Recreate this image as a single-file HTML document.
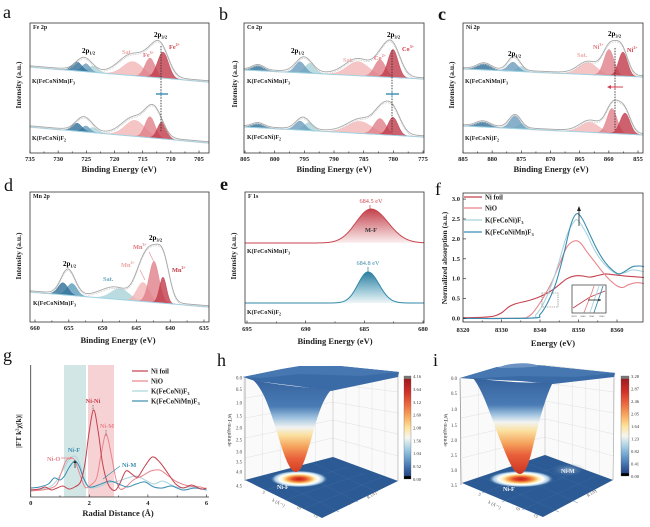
<!DOCTYPE html>
<html><head><meta charset="utf-8">
<style>
html,body{margin:0;padding:0;background:#fff;}
svg{display:block;}
text{font-family:"Liberation Serif",serif;}
.b{font-weight:bold;}
.tk{font-weight:bold;font-size:6.5px;text-anchor:middle;fill:#222;}
.ttl{font-weight:bold;font-size:8.5px;text-anchor:middle;fill:#222;}
.yl{font-weight:bold;font-size:7.5px;text-anchor:middle;fill:#222;}
.pl{font-size:18px;fill:#111;}
.nm{font-weight:bold;font-size:6px;fill:#222;}
.sm{font-weight:bold;font-size:6px;fill:#222;}
.lg{font-weight:bold;font-size:6.8px;fill:#222;}
.cb{font-size:4.6px;fill:#333;}
.ax3{font-size:4.8px;fill:#444;text-anchor:end;}
</style></head><body>
<svg id="s" width="650" height="527" viewBox="0 0 650 527" xmlns="http://www.w3.org/2000/svg">
<defs>
<linearGradient id="gRed" x1="0" y1="0" x2="0" y2="1"><stop offset="0" stop-color="#c23f4a"/><stop offset="0.55" stop-color="#e2a1a6"/><stop offset="1" stop-color="#fbf0f0"/></linearGradient>
<linearGradient id="gBlue" x1="0" y1="0" x2="0" y2="1"><stop offset="0" stop-color="#2d7c9e"/><stop offset="0.55" stop-color="#93c3d4"/><stop offset="1" stop-color="#eef6f8"/></linearGradient>
<linearGradient id="cbar" x1="0" y1="0" x2="0" y2="1">
<stop offset="0" stop-color="#7a7a7a"/><stop offset="0.025" stop-color="#7a7a7a"/><stop offset="0.03" stop-color="#9e1a1f"/><stop offset="0.15" stop-color="#cf2f28"/><stop offset="0.28" stop-color="#ec6a3f"/><stop offset="0.4" stop-color="#f9ad62"/><stop offset="0.5" stop-color="#fde29a"/><stop offset="0.6" stop-color="#f5f5f0"/><stop offset="0.7" stop-color="#a9d1e6"/><stop offset="0.8" stop-color="#6b9fcb"/><stop offset="0.9" stop-color="#3d68a6"/><stop offset="0.97" stop-color="#24457f"/><stop offset="0.975" stop-color="#000"/><stop offset="1" stop-color="#000"/>
</linearGradient>
<linearGradient id="funH" gradientUnits="userSpaceOnUse" x1="0" y1="378" x2="0" y2="473">
<stop offset="0" stop-color="#35629d"/><stop offset="0.3" stop-color="#4a7bb4"/><stop offset="0.42" stop-color="#9fc2df"/><stop offset="0.52" stop-color="#f1f3f2"/><stop offset="0.6" stop-color="#fbe0a0"/><stop offset="0.72" stop-color="#f5a35c"/><stop offset="0.85" stop-color="#e9603a"/><stop offset="1" stop-color="#d23b22"/>
</linearGradient>
<linearGradient id="funI" gradientUnits="userSpaceOnUse" x1="0" y1="378" x2="0" y2="474">
<stop offset="0" stop-color="#35629d"/><stop offset="0.28" stop-color="#4a7bb4"/><stop offset="0.38" stop-color="#9fc2df"/><stop offset="0.46" stop-color="#f1f3f2"/><stop offset="0.55" stop-color="#fbe0a0"/><stop offset="0.68" stop-color="#f5a35c"/><stop offset="0.8" stop-color="#e9603a"/><stop offset="1" stop-color="#cc3322"/>
</linearGradient>
<radialGradient id="hot">
<stop offset="0" stop-color="#c41e18"/><stop offset="0.22" stop-color="#e04a28"/><stop offset="0.4" stop-color="#f6a24e"/><stop offset="0.55" stop-color="#fff0bb"/><stop offset="0.68" stop-color="#ffffff"/><stop offset="0.84" stop-color="#a6c8e2"/><stop offset="1" stop-color="#2b5a94" stop-opacity="0"/>
</radialGradient>
<radialGradient id="hot2">
<stop offset="0" stop-color="#c8d8ea" stop-opacity="0.7"/><stop offset="1" stop-color="#2b5a94" stop-opacity="0"/>
</radialGradient>
</defs>

<!-- panel g bands -->
<rect x="64" y="365" width="22" height="132" fill="#d3e6e6"/>
<rect x="88" y="365" width="26" height="132" fill="#f7d2d4"/>

<g id="data"></g>

<!-- ===== Frames ===== -->
<g fill="none" stroke="#333" stroke-width="0.8">
<rect x="30" y="23" width="179" height="130"/>
<rect x="244" y="23" width="180" height="130"/>
<rect x="463" y="23" width="180" height="130"/>
<rect x="30" y="192" width="179" height="130"/>
<rect x="245" y="192" width="179" height="131"/>
<rect x="463" y="193" width="180" height="129"/>
<path d="M30.7,365 V497 H209"/>
</g>
<g id="ticks" stroke="#333" stroke-width="0.7"></g>

<!-- panel labels -->
<text class="pl" x="3" y="18">a</text>
<text class="pl" x="219" y="20">b</text>
<text class="pl b" x="438" y="20">c</text>
<text class="pl" x="4" y="191">d</text>
<text class="pl b" x="220" y="190">e</text>
<text class="pl" x="435" y="195">f</text>
<text class="pl" x="3" y="361">g</text>
<text class="pl" x="217" y="366">h</text>
<text class="pl" x="433" y="366">i</text>

<!-- ===== Panel a ===== -->
<text class="sm" x="33" y="29">Fe 2p</text>
<text class="b" font-size="7" x="82" y="53">2p<tspan font-size="4.5" dy="1.5">1/2</tspan></text>
<text class="b" font-size="7" x="154" y="37">2p<tspan font-size="4.5" dy="1.5">3/2</tspan></text>
<text class="b" font-size="6.3" x="122" y="54" fill="#efaaaa">Sat.</text>
<text class="b" font-size="6.3" x="143" y="57" fill="#e2737c">Fe<tspan font-size="4" dy="-3">3+</tspan></text>
<text class="b" font-size="6.3" x="169" y="49" fill="#cf3d4c">Fe<tspan font-size="4" dy="-3">2+</tspan></text>
<text class="nm" x="32" y="83">K(FeCoNiMn)F<tspan font-size="4" dy="1.5">3</tspan></text>
<text class="nm" x="32" y="140">K(FeCoNi)F<tspan font-size="4" dy="1.5">2</tspan></text>
<line x1="161" y1="46" x2="161" y2="132" stroke="#333" stroke-width="0.9" stroke-dasharray="1.5,1.2"/>
<g stroke="#3a8ab0" stroke-width="1.4"><line x1="156" y1="94" x2="168" y2="94"/><line x1="161" y1="91.5" x2="161" y2="96.5" stroke-width="0.8"/></g>
<text class="yl" transform="translate(21,85) rotate(-90)">Intensity (a.u.)</text>
<text class="tk" x="30" y="161">735</text><text class="tk" x="58.2" y="161">730</text><text class="tk" x="86.3" y="161">725</text><text class="tk" x="114.5" y="161">720</text><text class="tk" x="142.7" y="161">715</text><text class="tk" x="170.8" y="161">710</text><text class="tk" x="199" y="161">705</text>
<text class="ttl" x="119" y="172">Binding Energy (eV)</text>

<!-- ===== Panel b ===== -->
<text class="sm" x="247" y="29">Co 2p</text>
<text class="b" font-size="7" x="291" y="53">2p<tspan font-size="4.5" dy="1.5">1/2</tspan></text>
<text class="b" font-size="7" x="387" y="37">2p<tspan font-size="4.5" dy="1.5">3/2</tspan></text>
<text class="b" font-size="6.3" x="343" y="62" fill="#efaaaa">Sat.</text>
<text class="b" font-size="6.3" x="374" y="60" fill="#e2737c">Co<tspan font-size="4" dy="-3">2+</tspan></text>
<text class="b" font-size="6.3" x="402" y="51" fill="#cf3d4c">Co<tspan font-size="4" dy="-3">3+</tspan></text>
<text class="nm" x="247" y="83">K(FeCoNiMn)F<tspan font-size="4" dy="1.5">3</tspan></text>
<text class="nm" x="247" y="139">K(FeCoNi)F<tspan font-size="4" dy="1.5">2</tspan></text>
<line x1="392" y1="50" x2="392" y2="132" stroke="#333" stroke-width="0.9" stroke-dasharray="1.5,1.2"/>
<g stroke="#3a8ab0" stroke-width="1.4"><line x1="386" y1="94" x2="399" y2="94"/><line x1="392" y1="90.5" x2="392" y2="97.5" stroke-width="0.8"/></g>
<text class="yl" transform="translate(237,84) rotate(-90)">Intensity (a.u.)</text>
<text class="tk" x="245" y="161">805</text><text class="tk" x="274.7" y="161">800</text><text class="tk" x="304.3" y="161">795</text><text class="tk" x="334" y="161">790</text><text class="tk" x="363.7" y="161">785</text><text class="tk" x="393.3" y="161">780</text><text class="tk" x="423" y="161">775</text>
<text class="ttl" x="334" y="172">Binding Energy (eV)</text>

<!-- ===== Panel c ===== -->
<text class="sm" x="466" y="29">Ni 2p</text>
<text class="b" font-size="7" x="508" y="56">2p<tspan font-size="4.5" dy="1.5">1/2</tspan></text>
<text class="b" font-size="7" x="608" y="36">2p<tspan font-size="4.5" dy="1.5">3/2</tspan></text>
<text class="b" font-size="6.3" x="577" y="57" fill="#efaaaa">Sat.</text>
<text class="b" font-size="6.3" x="593" y="49" fill="#e2737c">Ni<tspan font-size="4" dy="-3">3+</tspan></text>
<text class="b" font-size="6.3" x="627" y="52" fill="#cf3d4c">Ni<tspan font-size="4" dy="-3">2+</tspan></text>
<text class="nm" x="465" y="83">K(FeCoNiMn)F<tspan font-size="4" dy="1.5">3</tspan></text>
<text class="nm" x="465" y="140">K(FeCoNi)F<tspan font-size="4" dy="1.5">2</tspan></text>
<line x1="615" y1="48" x2="615" y2="130" stroke="#333" stroke-width="0.9" stroke-dasharray="1.5,1.2"/>
<g stroke="#d04050" stroke-width="1" fill="#d04050"><line x1="610" y1="87" x2="623" y2="87"/><path d="M607,87 L611,85 L611,89 Z" stroke="none"/><line x1="615" y1="84.5" x2="615" y2="89.5" stroke-width="0.8"/></g>
<text class="yl" transform="translate(454,85) rotate(-90)">Intensity (a.u.)</text>
<text class="tk" x="463" y="161">885</text><text class="tk" x="492.2" y="161">880</text><text class="tk" x="521.3" y="161">875</text><text class="tk" x="550.5" y="161">870</text><text class="tk" x="579.7" y="161">865</text><text class="tk" x="608.8" y="161">860</text><text class="tk" x="638" y="161">855</text>
<text class="ttl" x="551" y="172">Binding Energy (eV)</text>

<!-- ===== Panel d ===== -->
<text class="sm" x="33" y="198">Mn 2p</text>
<text class="b" font-size="7" x="63" y="266">2p<tspan font-size="4.5" dy="1.5">1/2</tspan></text>
<text class="b" font-size="7" x="149" y="240">2p<tspan font-size="4.5" dy="1.5">3/2</tspan></text>
<text class="b" font-size="6.3" x="121" y="267" fill="#eea2a2">Mn<tspan font-size="4" dy="-3">4+</tspan></text>
<text class="b" font-size="6.3" x="133" y="249" fill="#e2737c">Mn<tspan font-size="4" dy="-3">3+</tspan></text>
<text class="b" font-size="6.3" x="172" y="272" fill="#c23a48">Mn<tspan font-size="4" dy="-3">2+</tspan></text>
<text class="b" font-size="6.3" x="103" y="281" fill="#6aaabf">Sat.</text>
<g stroke="#e88a90" stroke-width="0.6"><line x1="140" y1="270" x2="145" y2="280"/><line x1="149" y1="252" x2="154" y2="262"/></g>
<text class="nm" x="33" y="305">K(FeCoNiMn)F<tspan font-size="4" dy="1.5">3</tspan></text>
<text class="yl" transform="translate(21,256) rotate(-90)">Intensity (a.u.)</text>
<text class="tk" x="35" y="330">660</text><text class="tk" x="68.8" y="330">655</text><text class="tk" x="102.6" y="330">650</text><text class="tk" x="136.4" y="330">645</text><text class="tk" x="170.2" y="330">640</text><text class="tk" x="204" y="330">635</text>
<text class="ttl" x="118" y="343">Binding Energy (eV)</text>

<!-- ===== Panel e ===== -->
<text class="sm" x="248" y="198">F 1s</text>
<text font-size="6.3" x="371" y="203" fill="#d04a55" text-anchor="middle">684.5 eV</text>
<line x1="370" y1="205" x2="370" y2="211" stroke="#c0404a" stroke-width="0.7"/>
<text class="b" font-size="6.3" x="371" y="232" fill="#333" text-anchor="middle">M-F</text>
<text class="nm" x="247" y="253">K(FeCoNiMn)F<tspan font-size="4" dy="1.5">3</tspan></text>
<text font-size="6.3" x="368" y="265" fill="#3a8aaa" text-anchor="middle">684.8 eV</text>
<line x1="368" y1="267" x2="368" y2="273" stroke="#2d7c9e" stroke-width="0.7"/>
<text class="nm" x="247" y="314">K(FeCoNi)F<tspan font-size="4" dy="1.5">2</tspan></text>
<text class="yl" transform="translate(236,256) rotate(-90)">Intensity (a.u.)</text>
<text class="tk" x="247" y="331">695</text><text class="tk" x="305.7" y="331">690</text><text class="tk" x="364.4" y="331">685</text><text class="tk" x="423" y="331">680</text>
<text class="ttl" x="335" y="344">Binding Energy (eV)</text>

<!-- ===== Panel f ===== -->
<g stroke-width="1.2">
<line x1="464" y1="197" x2="482" y2="197" stroke="#c5404d"/>
<line x1="464" y1="208" x2="482" y2="208" stroke="#e8858c"/>
<line x1="464" y1="220" x2="482" y2="220" stroke="#a9d4dc"/>
<line x1="464" y1="232" x2="482" y2="232" stroke="#3a8db0"/>
</g>
<text class="lg" x="485" y="199.5">Ni foil</text>
<text class="lg" x="485" y="210.5">NiO</text>
<text class="lg" x="485" y="222.5">K(FeCoNi)F<tspan font-size="4.5" dy="1.5">3</tspan></text>
<text class="lg" x="485" y="234.5">K(FeCoNiMn)F<tspan font-size="4.5" dy="1.5">3</tspan></text>
<text class="yl" transform="translate(447,258) rotate(-90)">Normalized absorption (a.u.)</text>
<g class="tk" style="text-anchor:end"><text x="460" y="201">3.0</text><text x="460" y="221">2.5</text><text x="460" y="241">2.0</text><text x="460" y="261">1.5</text><text x="460" y="280.5">1.0</text><text x="460" y="300.5">0.5</text><text x="460" y="320.5">0.0</text></g>
<text class="tk" x="463" y="332">8320</text><text class="tk" x="501.5" y="332">8330</text><text class="tk" x="540" y="332">8340</text><text class="tk" x="578.5" y="332">8350</text><text class="tk" x="617" y="332">8360</text>
<text class="ttl" x="553" y="346">Energy (eV)</text>
<rect x="542" y="293" width="16" height="14" fill="none" stroke="#555" stroke-width="0.6" stroke-dasharray="1.2,1"/>
<rect x="572" y="285" width="34" height="28" fill="#fff" stroke="#333" stroke-width="0.7"/>
<g stroke-width="0.9" fill="none">
<path d="M573,308 L590,297 L605,291" stroke="#c5404d"/>
<path d="M584,312.5 L592,292 L594,286" stroke="#e8858c"/>
<path d="M590,312.5 L597,292 L599,286" stroke="#a9d4dc"/>
<path d="M594,312.5 L601,292 L603,286" stroke="#3a8db0"/>
</g>
<line x1="588" y1="300" x2="601" y2="300" stroke="#222" stroke-width="0.8"/>
<path d="M601,300 l-2.5,-1.3 v2.6 Z" fill="#222"/>
<g font-size="2.5" fill="#333" text-anchor="middle"><text x="574" y="317">8339</text><text x="583" y="317">8340</text><text x="592" y="317">8341</text><text x="602" y="317">8342</text></g>
<line x1="579" y1="226" x2="579" y2="211" stroke="#222" stroke-width="0.8"/>
<path d="M579,206 l-2,5 h4 Z" fill="#222"/>

<!-- ===== Panel g ===== -->
<g stroke-width="1.2">
<line x1="132" y1="371" x2="148" y2="371" stroke="#c5404d"/>
<line x1="132" y1="381" x2="148" y2="381" stroke="#e8858c"/>
<line x1="132" y1="391" x2="148" y2="391" stroke="#a9d4dc"/>
<line x1="132" y1="401" x2="148" y2="401" stroke="#3a8db0"/>
</g>
<text class="lg" x="151" y="373.5">Ni foil</text>
<text class="lg" x="151" y="383.5">NiO</text>
<text class="lg" x="151" y="393.5">K(FeCoNi)F<tspan font-size="4.5" dy="1.5">3</tspan></text>
<text class="lg" x="151" y="403.5">K(FeCoNiMn)F<tspan font-size="4.5" dy="1.5">3</tspan></text>
<text class="b" font-size="6.3" x="93" y="403" fill="#c5404d" text-anchor="middle">Ni-Ni</text>
<line x1="93" y1="405" x2="93" y2="411" stroke="#333" stroke-width="0.7" stroke-dasharray="0.8,0.8"/>
<text class="b" font-size="6.3" x="107" y="428" fill="#e8858c" text-anchor="middle">Ni-M</text>
<line x1="106" y1="430" x2="106" y2="436" stroke="#333" stroke-width="0.7" stroke-dasharray="0.8,0.8"/>
<text class="b" font-size="6.3" x="74" y="452" fill="#3a8db0" text-anchor="middle">Ni-F</text>
<text class="b" font-size="6.3" x="47" y="461" fill="#e8858c">Ni-O</text>
<line x1="61" y1="458" x2="71" y2="458" stroke="#e8858c" stroke-width="0.8"/>
<path d="M73,458 l-3,-1.5 v3 Z" fill="#e8858c"/>
<line x1="75" y1="468" x2="75" y2="462" stroke="#222" stroke-width="0.7"/>
<path d="M75,460 l-1.5,3 h3 Z" fill="#222"/>
<text class="b" font-size="6.3" x="122" y="467" fill="#3a8db0">Ni-M</text>
<line x1="120" y1="466" x2="103" y2="479" stroke="#3a8db0" stroke-width="0.7"/>
<text class="yl" transform="translate(21,431) rotate(-90)">|FT k<tspan font-size="4.5" dy="-2.5">2</tspan><tspan dy="2.5">χ(k)|</tspan></text>
<text class="tk" x="30.7" y="505">0</text><text class="tk" x="89.3" y="505">2</text><text class="tk" x="147.9" y="505">4</text><text class="tk" x="206.5" y="505">6</text>
<text class="ttl" x="118" y="516">Radial Distance (Å)</text>

<!-- ===== Panel h (3D) ===== -->
<g id="h3d">
<g stroke="#d9d9d9" stroke-width="0.4" fill="none">
<path d="M245,480 L333,457 L333,366 L243,377 Z" fill="#fafafa"/>
<path d="M333,457 L398,481 L398,372 L333,366 Z" fill="#fafafa"/>
<path d="M262.6,475.4 V375 M280.2,470.8 V373 M297.8,466.2 V371 M315.4,461.6 V368"/>
<path d="M346,461.8 V367.2 M359,466.6 V368.4 M372,471.4 V369.6 M385,476.2 V370.8"/>
<path d="M333,384 L398,392 M333,402 L398,413 M333,420 L398,434 M333,438 L398,456 M245,398 L333,384 M245,418 L333,402 M245,438 L333,420 M245,458 L333,438"/>
</g>
<line x1="398" y1="372" x2="398" y2="481" stroke="#999" stroke-width="0.5"/>
<line x1="333" y1="366" x2="333" y2="457" stroke="#bbb" stroke-width="0.4"/>
<path d="M245,480 L333,457 L398,481 L322,518 Z" fill="#2b5a94"/>
<g stroke="#41699e" stroke-width="0.4"><line x1="265" y1="490" x2="349" y2="467"/><line x1="285" y1="500" x2="365" y2="473"/><line x1="303" y1="509" x2="382" y2="477"/><line x1="265" y1="475" x2="339" y2="512"/><line x1="290" y1="468" x2="358" y2="502"/><line x1="312" y1="463" x2="378" y2="492"/></g>
<ellipse cx="299" cy="479" rx="29" ry="8.5" fill="url(#hot)"/>
<path d="M243,377 L282,369 L300,366 L340,366 L399,372 L398,377 L331,391 L296,386 L255,381 Z" fill="#3a6ba6"/>
<path d="M243,377 L282,369 L300,366 L340,366 L399,372 L360,376 L300,374 L262,378 Z" fill="#4677b0"/>
<path d="M253,380 C264,390 270,410 277,432 C283,452 289,472 296,472 C302,472 306,456 311,440 C317,418 322,400 331,390 C312,388 275,385 253,380 Z" fill="url(#funH)"/>
<text font-size="6" x="277" y="489" fill="#fff" class="b">Ni-F</text>
<line x1="245" y1="378" x2="245" y2="481" stroke="#666" stroke-width="0.5"/>
<g class="ax3"><text x="242" y="379.5">0.0</text><text x="242" y="391">0.5</text><text x="242" y="404.5">1.0</text><text x="242" y="417.5">1.5</text><text x="242" y="429.5">2.0</text><text x="242" y="441.5">2.5</text><text x="242" y="453.5">3.0</text><text x="242" y="463.5">3.5</text><text x="242" y="473.5">4.0</text><text x="242" y="487.5">4.5</text></g>
<text font-size="5.5" fill="#333" transform="translate(228,430) rotate(90)" text-anchor="middle">WT-magnitude</text>
<g font-size="4.5" fill="#555"><text transform="translate(272,501) rotate(28)">k (Å⁻¹)</text><text x="262" y="493" transform="rotate(28 262 493)">5</text><text x="296" y="508" transform="rotate(28 296 508)">10</text><text x="313" y="516" transform="rotate(28 313 516)">15</text><text transform="translate(368,499) rotate(-32)">R (Å)</text><text x="380" y="487">2</text><text x="348" y="505">4</text></g>
<rect x="404" y="376" width="7" height="103" fill="url(#cbar)" stroke="#555" stroke-width="0.3"/>
<g class="cb"><text x="413" y="378">4.16</text><text x="413" y="391">3.64</text><text x="413" y="404">3.12</text><text x="413" y="416.5">2.60</text><text x="413" y="429.5">2.08</text><text x="413" y="442.5">1.56</text><text x="413" y="455">1.04</text><text x="413" y="468">0.52</text><text x="413" y="481">0.00</text></g>
</g>

<!-- ===== Panel i (3D) ===== -->
<g id="i3d">
<g stroke="#d9d9d9" stroke-width="0.4" fill="none">
<path d="M462,483 L545,455 L545,365 L460,378 Z" fill="#fafafa"/>
<path d="M545,455 L613,480 L615,373 L545,365 Z" fill="#fafafa"/>
<path d="M478.6,477.4 V375 M495.2,471.8 V373 M511.8,466.2 V370 M528.4,460.6 V368"/>
<path d="M558.6,460 V367 M572.2,465 V368.5 M585.8,470 V370 M599.4,475 V371.5"/>
<path d="M545,383 L614,392 M545,401 L614,413 M545,419 L614,434 M545,437 L613,456 M461,398 L545,383 M461,418 L545,401 M461,438 L545,419 M462,458 L545,437"/>
</g>
<line x1="614" y1="373" x2="613" y2="480" stroke="#999" stroke-width="0.5"/>
<line x1="545" y1="365" x2="545" y2="455" stroke="#bbb" stroke-width="0.4"/>
<path d="M462,483 L545,455 L613,480 L543,517 Z" fill="#2b5a94"/>
<g stroke="#41699e" stroke-width="0.4"><line x1="482" y1="493" x2="562" y2="465"/><line x1="502" y1="502" x2="579" y2="471"/><line x1="522" y1="510" x2="596" y2="476"/><line x1="482" y1="477" x2="559" y2="512"/><line x1="505" y1="470" x2="578" y2="503"/><line x1="527" y1="463" x2="596" y2="491"/></g>
<ellipse cx="568" cy="470" rx="18" ry="7" fill="url(#hot2)"/>
<ellipse cx="521" cy="479" rx="33" ry="8.5" fill="url(#hot)"/>
<path d="M460,378 L497,367 L537,365 L615,373 L614,377 L553,384 L520,381 L473,379 Z" fill="#3a6ba6"/>
<path d="M460,378 L497,367 L537,365 L615,373 L575,377 L520,376 L480,378 Z" fill="#4677b0"/>
<path d="M497,368 C510,362 530,362 540,366 C525,368 510,368 497,368 Z" fill="#6b94c4"/>
<path d="M473,378 C484,392 492,420 501,442 C508,460 514,474 520,474 C526,474 530,460 534,442 C540,418 545,398 553,382 C530,384 495,381 473,378 Z" fill="url(#funI)"/>
<text font-size="6" x="503" y="491" fill="#fff" class="b">Ni-F</text>
<text font-size="6" x="561" y="473" fill="#e8eef6" class="b">Ni-M</text>
<line x1="460" y1="378" x2="461" y2="485" stroke="#666" stroke-width="0.5"/>
<g class="ax3"><text x="457" y="380">0.0</text><text x="457" y="395">0.5</text><text x="457" y="411">1.0</text><text x="457" y="427">1.5</text><text x="457" y="442">2.0</text><text x="457" y="457">2.5</text><text x="457" y="472">3.0</text><text x="457" y="487">3.5</text></g>
<text font-size="5.5" fill="#333" transform="translate(444,430) rotate(90)" text-anchor="middle">WT-magnitude</text>
<g font-size="4.5" fill="#555"><text transform="translate(488,503) rotate(28)">k (Å⁻¹)</text><text x="478" y="495" transform="rotate(28 478 495)">5</text><text x="515" y="509" transform="rotate(28 515 509)">10</text><text x="533" y="516" transform="rotate(28 533 516)">15</text><text transform="translate(588,497) rotate(-32)">R (Å)</text><text x="597" y="486">2</text><text x="568" y="503">4</text></g>
<rect x="621" y="376" width="8" height="100" fill="url(#cbar)" stroke="#555" stroke-width="0.3"/>
<g class="cb"><text x="631" y="378">3.28</text><text x="631" y="390.5">2.87</text><text x="631" y="403">2.46</text><text x="631" y="415.5">2.05</text><text x="631" y="428">1.64</text><text x="631" y="440.5">1.23</text><text x="631" y="453">0.82</text><text x="631" y="465.5">0.41</text><text x="631" y="478">0.00</text></g>
</g>
</svg>
<script>
(function(){
var NS='http://www.w3.org/2000/svg';
var data=document.getElementById('data');
var ticks=document.getElementById('ticks');
function el(p,t,a){var e=document.createElementNS(NS,t);for(var k in a)e.setAttribute(k,a[k]);p.appendChild(e);return e;}
function gs(x,c,s,h){return h*Math.exp(-(x-c)*(x-c)/(2*s*s));}
var DB='#2f6f97',MB='#6a9cbd',LT='#a9d3da',LP='#f2b5b5',MR='#e0808a',DR='#c0394a';
function spectrum(x0,x1,yb0,yb1,comps,env){
  var base=function(x){return yb0+(yb1-yb0)*(x-x0)/(x1-x0);};
  comps.forEach(function(c){
    var a=Math.max(x0,c[0]-4*c[1]),b=Math.min(x1,c[0]+4*c[1]);
    var d='M'+a+','+base(a).toFixed(2);
    for(var x=a;x<=b;x+=0.5)d+='L'+x+','+(base(x)-gs(x,c[0],c[1],c[2])).toFixed(2);
    d+='L'+b+','+base(b).toFixed(2)+'Z';
    el(data,'path',{d:d,fill:c[3],'fill-opacity':c[4]||0.8,stroke:c[3],'stroke-width':0.4});
  });
  el(data,'line',{x1:x0,y1:yb0,x2:x1,y2:yb1,stroke:'#9fd3e3','stroke-width':1});
  var d='',d2='';
  for(var x=x0;x<=x1;x+=0.5){var v=0;env.forEach(function(e){v+=gs(x,e[0],e[1],e[2]);});
    var y=base(x)-v-1.2;d+=(x==x0?'M':'L')+x+','+y.toFixed(2);d2+=(x==x0?'M':'L')+x+','+(y+1.6).toFixed(2);}
  el(data,'path',{d:d2,fill:'none',stroke:'#c4c4c4','stroke-width':0.9,'stroke-dasharray':'0.8,0.9'});
  el(data,'path',{d:d,fill:'none',stroke:'#a8a8a8','stroke-width':0.9});
}
// Panel a
spectrum(30,209,67,82,[[93,5,6,LT],[86,4,8,MB],[77,5,9,DB],[133,10,14,LP],[150,5,19,MR],[163,5.5,26,DR]],
  [[84,8,13],[132,13,20],[150,8,12],[161,8,28]]);
spectrum(30,209,127,143,[[93,5,5,LT],[86,4,6,MB],[77,5,8,DB],[135,10,16,LP],[150,5,21,MR],[162,4.5,17,DR]],
  [[84,8,14],[134,12,18],[150,7,16],[158,7,16]]);
// Panel b
spectrum(244,424,70,79,[[258,6,5,DB],[310,5,10,LT],[300,5,11,MB],[358,11,14,LP],[380,5.5,17,MR],[393,5,28,DR]],
  [[258,6,5],[304,8,15],[358,13,16],[380,7,12],[392,8,32]]);
spectrum(244,424,127,137,[[258,6,4,DB],[309,5,8,LT],[300,5,9,MB],[360,12,12,LP],[380,6,16,MR],[393,5,18,DR]],
  [[258,6,4],[303,7,12],[362,14,14],[380,7,14],[392,8,26]]);
// Panel c
spectrum(463,643,69,77,[[484,7,6,DB],[521,4,5,LT],[513,5,9,MB],[588,9,12,LP],[609,5,26,MR],[623,4.5,24,DR]],
  [[484,7,6],[514,6,14],[588,10,12],[610,7,28],[622,6,24]]);
spectrum(463,643,126,135,[[483,7,5,DB],[522,4,5,LT],[515,5,13,MB],[590,9,10,LP],[612,5,25,MR],[625,5,21,DR]],
  [[483,7,5],[515,6,13],[590,10,11],[613,7,28],[625,6,20]]);
// Panel d
spectrum(30,209,292,307,[[120,9,11,LT],[72,5,12,'#5d9bbb'],[63,5,12,DB],[143,6,19,LP],[154,5,41,MR],[163,3.5,26,DR]],
  [[68,7,25],[115,14,11],[140,7,16],[152,9,48],[164,6,30]]);
// Panel e
function fpeak(x0,x1,yb,c,sl,sr,h,fill,stroke){
  var d='M'+x0+','+yb,d2='M'+x0+','+yb;
  for(var x=x0;x<=x1;x+=0.5){var s=x<c?sl:sr;var y=yb-gs(x,c,s,h);d+='L'+x+','+y.toFixed(2);d2+='L'+x+','+y.toFixed(2);}
  d+='L'+x1+','+yb+'Z';
  el(data,'path',{d:d,fill:fill});
  el(data,'path',{d:d2,fill:'none',stroke:stroke,'stroke-width':1});
}
fpeak(245,424,243,371,15,17,34,'url(#gRed)','#c8464f');
fpeak(245,424,303,368,10,11,31,'url(#gBlue)','#2f87a8');
// smoothing helper
function smooth(p){var d='M'+p[0][0].toFixed(1)+','+p[0][1].toFixed(1);
  for(var i=0;i<p.length-1;i++){var p0=p[i-1]||p[i],p1=p[i],p2=p[i+1],p3=p[i+2]||p2;
    d+='C'+(p1[0]+(p2[0]-p0[0])/6).toFixed(1)+','+(p1[1]+(p2[1]-p0[1])/6).toFixed(1)+' '+(p2[0]-(p3[0]-p1[0])/6).toFixed(1)+','+(p2[1]-(p3[1]-p1[1])/6).toFixed(1)+' '+p2[0].toFixed(1)+','+p2[1].toFixed(1);}
  return d;}
// Panel f
function fx(E){return 463+(E-8320)*3.85;} function fy(v){return 318.5-v*39.8;}
var F=[
 ['#c5404d',[[8320,0.02],[8325,0.03],[8328,0.06],[8330,0.14],[8332,0.3],[8334,0.38],[8337,0.45],[8340,0.55],[8343,0.7],[8345,0.85],[8347,1.0],[8349,1.07],[8351,1.07],[8353,1.04],[8355,1.08],[8357,1.12],[8359,1.1],[8361,1.08],[8363,1.06],[8367,1.03]]],
 ['#e8858c',[[8320,0],[8334,0.01],[8337,0.05],[8339,0.25],[8341,0.55],[8343,0.9],[8345,1.35],[8347,1.8],[8349,1.95],[8350.5,1.9],[8352,1.7],[8354,1.45],[8356,1.2],[8358,0.98],[8360,0.82],[8361.5,0.78],[8363,0.85],[8365,0.9],[8367,0.88]]],
 ['#a9d4dc',[[8320,0],[8337,0.01],[8339,0.1],[8341,0.4],[8343,0.85],[8345,1.45],[8347,2.1],[8349,2.45],[8350,2.45],[8352,2.15],[8354,1.75],[8356,1.45],[8358,1.25],[8360,1.12],[8362,1.15],[8364,1.22],[8367,1.18]]],
 ['#3a8db0',[[8320,0],[8338,0.01],[8340,0.1],[8342,0.4],[8344,0.85],[8346,1.55],[8348,2.35],[8349.5,2.63],[8351,2.5],[8353,2.1],[8355,1.7],[8357,1.4],[8359,1.2],[8360.5,1.12],[8362,1.18],[8364,1.3],[8366,1.32],[8367,1.3]]]];
F.forEach(function(s){var p=s[1].map(function(q){return [fx(q[0]),fy(q[1])];});el(data,'path',{d:smooth(p),fill:'none',stroke:s[0],'stroke-width':1.1});});
// Panel g
function gx(R){return 30.7+R*29.3;}
var G=[
 ['#a9d4dc',[[0,490],[0.4,489],[0.7,486],[0.9,480],[1.1,470],[1.3,460],[1.5,456],[1.65,462],[1.8,476],[1.95,486],[2.1,488],[2.4,486],[2.7,482],[3.0,481],[3.3,478],[3.6,476],[3.9,480],[4.2,484],[4.5,481],[4.8,485],[5.1,488],[5.5,487],[6,490]]],
 ['#e8858c',[[0,491],[0.4,490],[0.7,488],[0.9,484],[1.05,472],[1.2,461],[1.35,458],[1.5,460],[1.65,472],[1.85,487],[2.05,485],[2.25,478],[2.4,455],[2.57,434],[2.75,455],[2.9,478],[3.05,489],[3.25,487],[3.5,480],[3.8,476],[4.1,471],[4.4,470],[4.7,476],[5.0,482],[5.4,486],[5.8,487],[6,489]]],
 ['#3a8db0',[[0,488],[0.3,487],[0.6,484],[0.8,478],[1.0,480],[1.15,476],[1.3,468],[1.5,461],[1.65,466],[1.8,478],[1.95,486],[2.1,487],[2.4,484],[2.7,481],[3.0,484],[3.3,487],[3.6,484],[3.9,482],[4.2,487],[4.5,488],[4.8,486],[5.2,490],[5.6,488],[6,490]]],
 ['#c5404d',[[0,490],[0.3,489],[0.5,487],[0.7,490],[0.9,488],[1.1,486],[1.3,489],[1.5,487],[1.7,482],[1.85,464],[2.0,431],[2.15,410],[2.3,431],[2.45,463],[2.6,481],[2.75,489],[2.9,490],[3.05,483],[3.25,471],[3.45,474],[3.65,477],[3.9,466],[4.15,457],[4.4,462],[4.7,474],[4.95,484],[5.2,488],[5.5,485],[5.8,489],[6,488]]]];
G.forEach(function(s){var p=s[1].map(function(q){return [gx(q[0]),q[1]];});el(data,'path',{d:smooth(p),fill:'none',stroke:s[0],'stroke-width':1});});
// ticks
function xt(xs,yb,minor){xs.forEach(function(x,i){el(ticks,'line',{x1:x,y1:yb,x2:x,y2:yb-2.5});
  if(minor&&i<xs.length-1){var m=(x+xs[i+1])/2;el(ticks,'line',{x1:m,y1:yb,x2:m,y2:yb-1.5});}});}
function rng(a,st,n){var r=[];for(var i=0;i<n;i++)r.push(a+st*i);return r;}
xt(rng(30,28.17,7),153,1);xt(rng(245,29.67,7),153,1);xt(rng(463,29.17,7),153,1);
xt(rng(35,33.8,6),322,1);xt(rng(247,58.67,4),323,1);xt(rng(463,38.5,5),322,1);
xt(rng(30.7,58.6,4),497,1);
for(var i=0;i<7;i++){var y=318.5-i*19.9;el(ticks,'line',{x1:463,y1:y,x2:466,y2:y});}
})();
</script>
</body></html>
